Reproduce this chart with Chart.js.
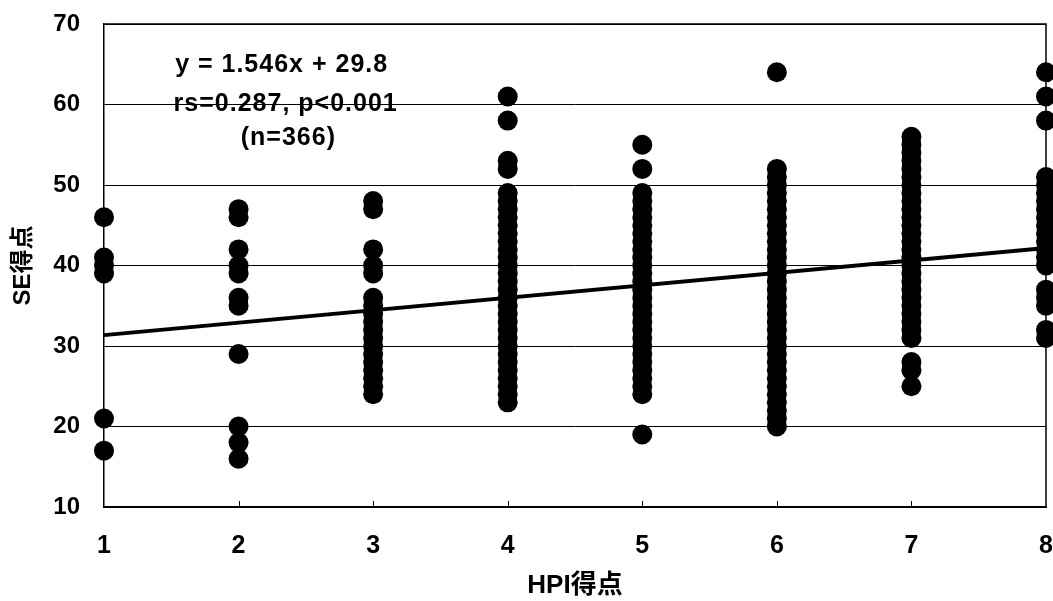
<!DOCTYPE html>
<html>
<head>
<meta charset="utf-8">
<script src="https://cdn.jsdelivr.net/npm/chart.js@4/dist/chart.umd.min.js"></script>
<style>
  html, body { margin: 0; padding: 0; background: #fff; }
  canvas { display: block; }
</style>
</head>
<body>
<canvas id="c" width="1053" height="601" style="width:1053px;height:601px"></canvas>
<script>
// HPI score categories (x) and SE score values (y)
const hpiScores = [1, 2, 3, 4, 5, 6, 7, 8];
const se1 = [46, 41, 40, 39, 21, 17];
const se2 = [47, 46, 42, 40, 39, 36, 35, 29, 20, 18, 16];
const se3 = [48, 47, 42, 40, 39, 36, 35, 34, 33, 32, 31, 30, 29, 28, 27, 26, 25, 24];
const se4 = [61, 58, 53, 52, 49, 48, 47, 46, 45, 44, 43, 42, 41, 40, 39, 38, 37, 36, 35, 34, 33, 32, 31, 30, 29, 28, 27, 26, 25, 24, 23];
const se5 = [55, 52, 49, 48, 47, 46, 45, 44, 43, 42, 41, 40, 39, 38, 37, 36, 35, 34, 33, 32, 31, 30, 29, 28, 27, 26, 25, 24, 19];
const se6 = [64, 52, 51, 50, 49, 48, 47, 46, 45, 44, 43, 42, 41, 40, 39, 38, 37, 36, 35, 34, 33, 32, 31, 30, 29, 28, 27, 26, 25, 24, 23, 22, 21, 20];
const se7 = [56, 55, 54, 53, 52, 51, 50, 49, 48, 47, 46, 45, 44, 43, 42, 41, 40, 39, 38, 37, 36, 35, 34, 33, 32, 31, 28, 27, 25];
const se8 = [64, 61, 58, 51, 50, 49, 48, 47, 46, 45, 44, 43, 42, 41, 40, 37, 36, 35, 32, 31];
const seColumns = [se1, se2, se3, se4, se5, se6, se7, se8];

// regression line end points (y = 1.546x + 29.8 at x = 1 and x = 8)
const trendX = [1, 8];
const trendY = [31.35, 42.17];

const yTicks = [10, 20, 30, 40, 50, 60, 70];
const xTitle = 'HPI得点';
const yTitle = 'SE得点';
const annotationLines = ['y = 1.546x + 29.8', 'rs=0.287, p<0.001', '(n=366)'];

const points = [];
hpiScores.forEach((x, i) => seColumns[i].forEach(y => points.push({ x: x, y: y })));
const trend = trendX.map((x, i) => ({ x: x, y: trendY[i] }));

const FONT = '"Liberation Sans", "Noto Sans CJK JP", Arial, sans-serif';

const framePlugin = {
  id: 'frame',
  afterDraw(chart) {
    const { ctx, chartArea: a, scales } = chart;
    ctx.save();
    ctx.strokeStyle = '#000';
    ctx.lineWidth = 1.5;
    ctx.beginPath();
    ctx.moveTo(a.left, a.top);
    ctx.lineTo(a.right, a.top);
    ctx.lineTo(a.right, a.bottom);
    ctx.stroke();
    // small inward tick marks on x axis
    ctx.lineWidth = 1;
    hpiScores.slice(1, -1).forEach(v => {
      const px = Math.round(scales.x.getPixelForValue(v)) + 0.5;
      ctx.beginPath();
      ctx.moveTo(px, a.bottom);
      ctx.lineTo(px, a.bottom - 6);
      ctx.stroke();
    });
    // annotation text
    ctx.fillStyle = '#000';
    ctx.font = 'bold 25px ' + FONT;
    ctx.textAlign = 'center';
    ctx.textBaseline = 'middle';
    if ('letterSpacing' in ctx) ctx.letterSpacing = '1px';
    const xs = [2.32, 2.35, 2.37];
    const ys = [64.9, 60.1, 55.8];
    annotationLines.forEach((t, i) => {
      ctx.fillText(t, scales.x.getPixelForValue(xs[i]), scales.y.getPixelForValue(ys[i]));
    });
    ctx.restore();
  }
};

new Chart(document.getElementById('c'), {
  type: 'scatter',
  data: {
    datasets: [
      {
        type: 'line',
        data: trend,
        borderColor: '#000',
        borderWidth: 4,
        pointRadius: 0,
        fill: false,
        clip: false
      },
      {
        data: points,
        backgroundColor: '#000',
        borderColor: '#000',
        borderWidth: 0,
        pointRadius: 10,
        pointHoverRadius: 10,
        clip: false
      }
    ]
  },
  options: {
    responsive: false,
    animation: false,
    events: [],
    layout: { autoPadding: false, padding: { top: 24, right: 7, left: 0, bottom: 0 } },
    plugins: { legend: { display: false }, tooltip: { enabled: false } },
    scales: {
      x: {
        type: 'linear',
        min: 1,
        max: 8,
        afterBuildTicks(scale) { scale.ticks = hpiScores.map(v => ({ value: v })); },
        afterFit(scale) { scale.height = 94; },
        ticks: { color: '#000', font: { family: FONT, size: 25, weight: 'bold' }, padding: 0, maxRotation: 0 },
        grid: { drawOnChartArea: false, drawTicks: true, tickLength: 24, tickColor: 'rgba(0,0,0,0)' },
        border: { color: '#000', width: 2 },
        title: { display: true, text: xTitle, color: '#000', font: { family: FONT, size: 26, weight: 'bold' }, padding: { top: 0, bottom: 0 } }
      },
      y: {
        min: 10,
        max: 70,
        afterBuildTicks(scale) { scale.ticks = yTicks.map(v => ({ value: v })); },
        afterFit(scale) { scale.width = 104; },
        ticks: { color: '#000', font: { family: FONT, size: 24, weight: 'bold' }, padding: 0 },
        grid: { color: '#000', lineWidth: 1, drawTicks: true, tickLength: 24, tickColor: 'rgba(0,0,0,0)' },
        border: { color: '#000', width: 1.5 },
        title: { display: true, text: yTitle, color: '#000', font: { family: FONT, size: 24, weight: 'bold' }, padding: { top: 9, bottom: 0 } }
      }
    }
  },
  plugins: [framePlugin]
});
</script>
</body>
</html>
